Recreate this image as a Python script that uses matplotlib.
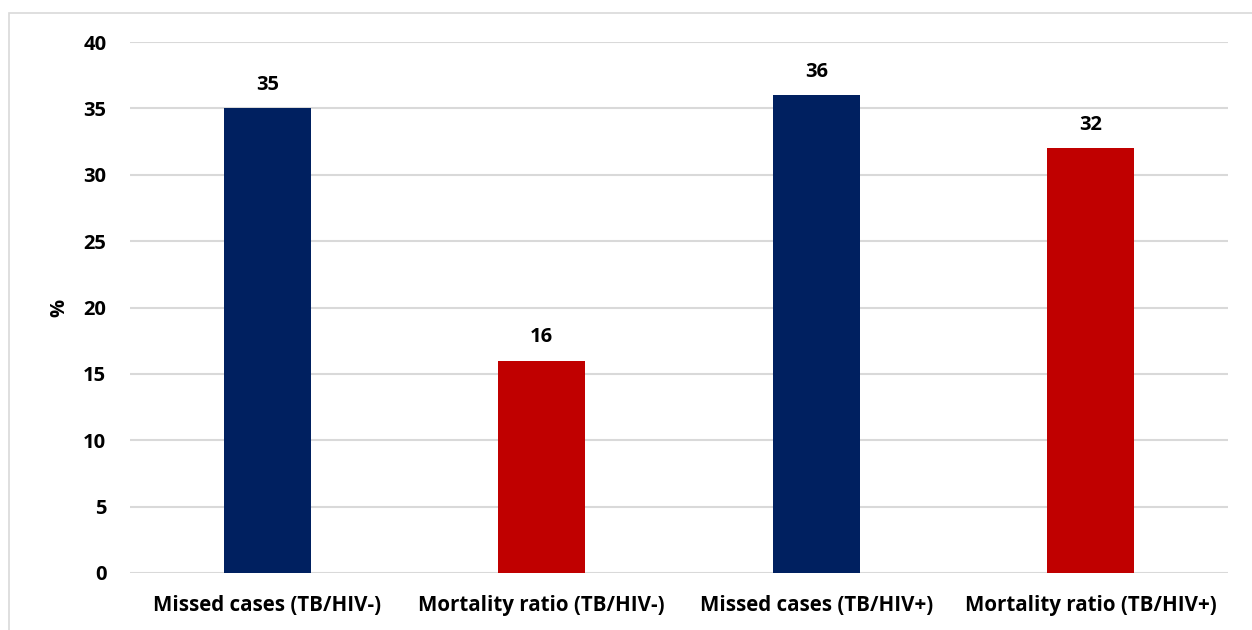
import matplotlib.pyplot as plt
from matplotlib.patches import Rectangle

# bar data (%)
categories = ["Missed cases (TB/HIV-)", "Mortality ratio (TB/HIV-)",
              "Missed cases (TB/HIV+)", "Mortality ratio (TB/HIV+)"]
values = [35, 16, 36, 32]
colors = ["#002060", "#C00000", "#002060", "#C00000"]
yticks = [0, 5, 10, 15, 20, 25, 30, 35, 40]

plt.rcParams['font.family'] = ['Open Sans', 'DejaVu Sans']

fig = plt.figure(figsize=(12.52, 6.3), dpi=100)
ax = fig.add_axes([0.1038, 0.0905, 0.877, 0.8428])

x = range(len(categories))
bars = ax.bar(x, values, width=0.317, color=colors, zorder=3)
for b, v in zip(bars, values):
    ax.text(b.get_x() + b.get_width() / 2, v + 1.0, str(v), ha='center', va='bottom',
            fontsize=14.5, fontweight='bold', color='black')

ax.set_xlim(-0.5, len(categories) - 0.5)
ax.set_ylim(0, 40)
ax.set_yticks(yticks)
ax.set_xticks(list(x))
ax.set_xticklabels(categories, fontsize=14.8, fontweight='bold')
ax.set_yticklabels([str(t) for t in yticks], fontsize=14.5, fontweight='bold')
ax.tick_params(axis='both', length=0)
ax.tick_params(axis='y', pad=17)
ax.tick_params(axis='x', pad=16)
ax.grid(axis='y', color='#d9d9d9', linewidth=1.5, zorder=0)
for s in ax.spines.values():
    s.set_visible(False)
ax.set_ylabel('%', fontsize=14.5, fontweight='bold', labelpad=10)

# chart area frame
fig.patches.append(Rectangle((9 / 1252, -0.05), 1.1, 1 - 13 / 630 + 0.05,
                             transform=fig.transFigure, fill=False,
                             edgecolor='#d9d9d9', linewidth=1.2))

fig.savefig('out.png', dpi=100)
